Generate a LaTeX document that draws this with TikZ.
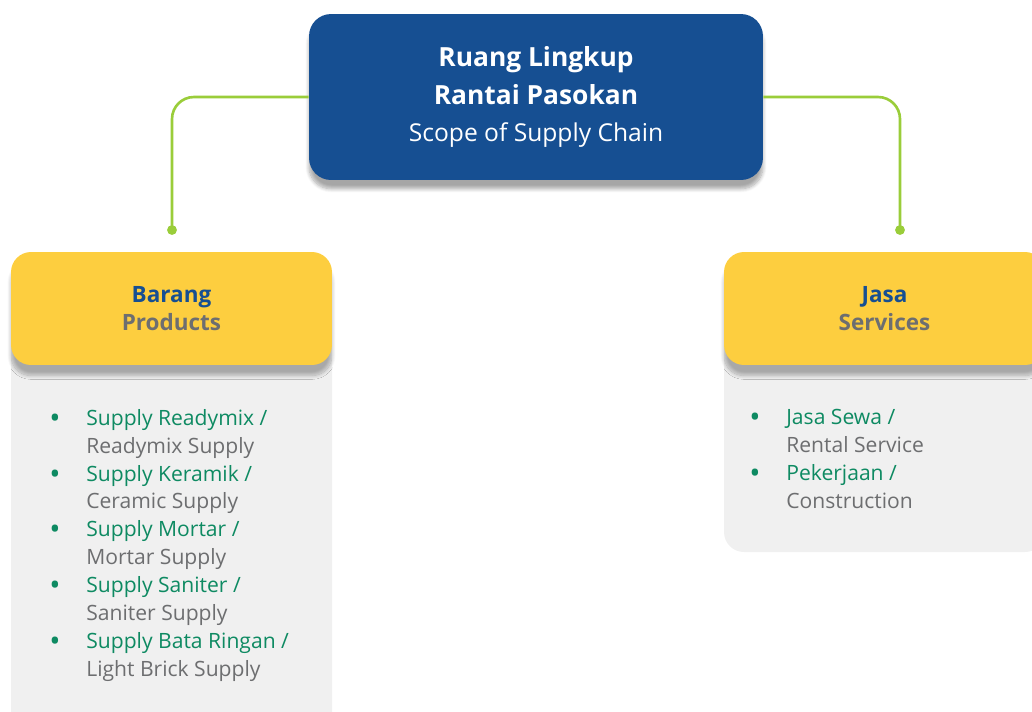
\documentclass[tikz,border=0pt]{standalone}
\usepackage{fontspec}
\setmainfont{Open Sans}
\usetikzlibrary{shadows.blur}
\definecolor{scopeblue}{HTML}{164F92}
\definecolor{groupyellow}{HTML}{FDCE3F}
\definecolor{listgrey}{HTML}{F0F0F0}
\definecolor{linkgreen}{HTML}{9ACD3A}
\definecolor{itemgreen}{HTML}{0E8A62}
\definecolor{itemgrey}{HTML}{6D6E70}
\newcommand{\listentry}[2]{\makebox[0.74cm][l]{\raisebox{-0.14em}{\textcolor{itemgreen}{\fontsize{17}{15.9}\selectfont\textbullet}}}\textcolor{itemgreen}{#1}\\\hspace*{0.74cm}\textcolor{itemgrey}{#2}}
\begin{document}
\begin{tikzpicture}[x=0.02cm,y=-0.02cm,
	headbox/.style={fill=scopeblue, rounded corners=0.44cm, minimum width=9.08cm, minimum height=3.32cm,
		text=white, align=center, font=\fontsize{14}{21.3}\selectfont,
		blur shadow={shadow xshift=0pt, shadow yshift=-5pt, shadow opacity=35, shadow blur steps=8}},
	groupbox/.style={fill=groupyellow, rounded corners=0.4cm, minimum width=6.42cm, minimum height=2.26cm,
		align=center, font=\bfseries\fontsize{12.8}{16.4}\selectfont,
		blur shadow={shadow xshift=0pt, shadow yshift=-6pt, shadow opacity=30, shadow blur steps=12}},
	listbg/.style={fill=listgrey, rounded corners=0.4cm},
	itemlist/.style={anchor=north west, align=left, inner sep=0pt, font=\fontsize{12}{15.85}\selectfont},
	link/.style={draw=linkgreen, line width=1.5pt, rounded corners=0.44cm}]
	\useasboundingbox (0,0) rectangle (1032,711);
	\clip (0,0) rectangle (1032,711);
	
	% grey panels behind the groups
	\fill[listbg] (11,300) rectangle (332,740);
	\fill[listbg] (724,300) rectangle (1045,552);
	
	\node[headbox] (scope) at (536,97) {\textbf{\fontsize{15}{21.3}\selectfont Ruang Lingkup}\\\textbf{\fontsize{15}{21.3}\selectfont Rantai Pasokan}\\Scope of Supply Chain};
	
	\node[groupbox] (barang) at (171.5,308.5) {\textcolor{scopeblue}{Barang}\\\textcolor{itemgrey}{Products}};
	\node[groupbox] (jasa) at (884.5,308.5) {\textcolor{scopeblue}{Jasa}\\\textcolor{itemgrey}{Services}};
	
	\coordinate (bdot) at (172,230);
	\coordinate (jdot) at (900,230);
	\draw[link] (scope.west) -| (bdot);
	\draw[link] (scope.east) -| (jdot);
	\fill[linkgreen] (bdot) circle (2.8pt);
	\fill[linkgreen] (jdot) circle (2.8pt);
	
	\node[itemlist] (barang list) at (49,409) {\listentry{Supply Readymix /}{Readymix Supply}\\
		\listentry{Supply Keramik /}{Ceramic Supply}\\
		\listentry{Supply Mortar /}{Mortar Supply}\\
		\listentry{Supply Saniter /}{Saniter Supply}\\
		\listentry{Supply Bata Ringan /}{Light Brick Supply}};
	\node[itemlist] (jasa list) at (749,409) {\listentry{Jasa Sewa /}{Rental Service}\\
		\listentry{Pekerjaan /}{Construction}};
\end{tikzpicture}
\end{document}
